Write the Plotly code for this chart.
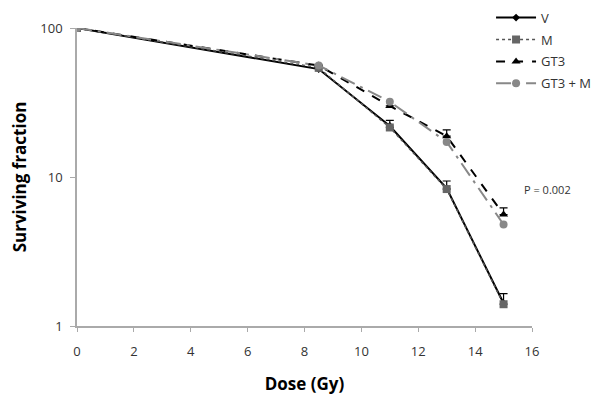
import math
import plotly.graph_objects as go

dose = [0, 8.5, 11, 13, 15]
v_vals = [100, 53, 22, 8.4, 1.42]
m_vals = [100, 54, 21.5, 8.3, 1.4]
gt3_vals = [100, 56, 30, 18.8, 5.6]
gt3m_vals = [100, 56, 32, 17.2, 4.8]
m_err = [0, 0, 2.5, 1.1, 0.25]
gt3_err = [0, 0, 0, 1.9, 0.6]
x_ticks = [0, 2, 4, 6, 8, 10, 12, 14, 16]
y_ticks = [1, 10, 100]
p_text = "P = 0.002"
p_pos = (15.65, 8.2)

fig = go.Figure()
fig.add_trace(go.Scatter(x=dose, y=v_vals, name="V", mode="lines+markers", legendgroup="a",
                         line=dict(color="black", width=2),
                         marker=dict(symbol="diamond", size=6, color="black")))
fig.add_trace(go.Scatter(x=dose, y=m_vals, name="M", mode="lines+markers", legendgroup="b",
                         line=dict(color="#555555", width=1.5, dash="dot"),
                         marker=dict(symbol="square", size=8, color="#666666"),
                         error_y=dict(type="data", array=m_err, arrayminus=[0]*5, symmetric=False,
                                      color="black", thickness=1.2, width=4)))
fig.add_trace(go.Scatter(x=dose, y=gt3_vals, name="GT3", mode="lines+markers", legendgroup="c",
                         line=dict(color="black", width=2, dash="dash"),
                         marker=dict(symbol="triangle-up", size=8, color="black"),
                         error_y=dict(type="data", array=gt3_err, arrayminus=[0]*5, symmetric=False,
                                      color="black", thickness=1.2, width=4)))
fig.add_trace(go.Scatter(x=dose, y=gt3m_vals, name="GT3 + M", mode="lines+markers", legendgroup="d",
                         line=dict(color="#888888", width=2, dash="longdashdot"),
                         marker=dict(symbol="circle", size=8, color="#888888")))

fig.add_annotation(x=p_pos[0], y=math.log10(p_pos[1]), xref="x", yref="y", text=p_text,
                   showarrow=False, xanchor="left", font=dict(size=11, color="#333333"))

fig.update_layout(
    width=593, height=405,
    margin=dict(l=69, r=69, t=20, b=87, autoexpand=False),
    plot_bgcolor="white", paper_bgcolor="white",
    font=dict(family="Open Sans", color="#333333"),
    showlegend=True,
    legend=dict(x=0.91, y=1.085, xanchor="left", yanchor="top", bgcolor="rgba(0,0,0,0)",
                font=dict(size=13, color="#333333"), itemwidth=40, tracegroupgap=2),
    xaxis=dict(range=[0, 16], tickvals=x_ticks, showgrid=False, zeroline=False,
               showline=True, linecolor="#aaaaaa", linewidth=1.5,
               ticks="outside", ticklen=4, tickcolor="#aaaaaa", ticklabelstandoff=9,
               tickfont=dict(size=13, color="#333333"),
               title=dict(text="<b>Dose (Gy)</b>", font=dict(size=17, color="black"), standoff=19)),
    yaxis=dict(type="log", range=[0, 2], tickvals=y_ticks, ticktext=["1", "10", "100"],
               showgrid=False, zeroline=False,
               showline=True, linecolor="#aaaaaa", linewidth=1.5,
               ticks="outside", ticklen=5, tickcolor="#aaaaaa", ticklabelstandoff=5,
               tickfont=dict(size=13, color="#333333"),
               title=dict(text="<b>Surviving fraction</b>", font=dict(size=17, color="black"), standoff=16)),
)
fig.write_html("out.html")
